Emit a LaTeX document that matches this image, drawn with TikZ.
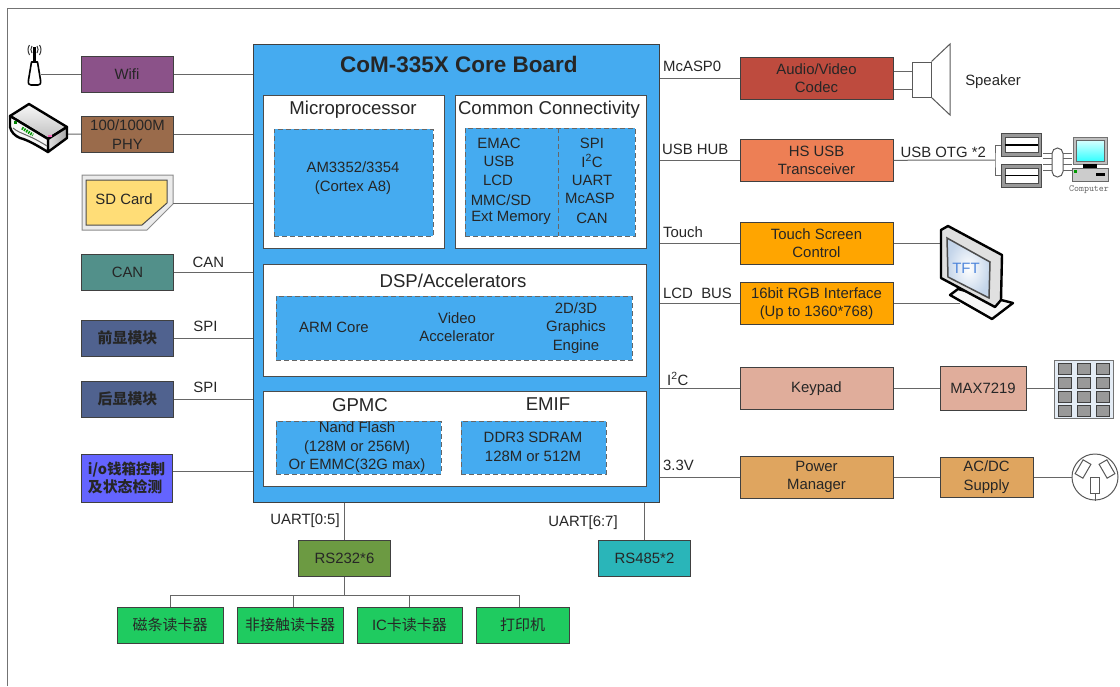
\documentclass[tikz,border=0pt]{standalone}
\usepackage{fontspec}
\setmainfont{Liberation Sans}
\newfontfamily\cjk{Noto Sans CJK SC}
\usetikzlibrary{calc, positioning, shapes.geometric}
\definecolor{corefill}{HTML}{45ABF0}
\definecolor{wifipurple}{HTML}{8B5289}
\definecolor{phybrown}{HTML}{9A6B4B}
\definecolor{canteal}{HTML}{52908A}
\definecolor{dispblue}{HTML}{50628F}
\definecolor{iovio}{HTML}{6464FF}
\definecolor{audiored}{HTML}{BE4B3E}
\definecolor{usbcoral}{HTML}{ED7F55}
\definecolor{lcdorange}{HTML}{FFA500}
\definecolor{keypink}{HTML}{E0AD9B}
\definecolor{powertan}{HTML}{DFA55F}
\definecolor{readergreen}{HTML}{1FCB60}
\definecolor{rsolive}{HTML}{6C9A42}
\definecolor{rscyan}{HTML}{2AB5B9}
\definecolor{sdyellow}{HTML}{FFDD77}
\definecolor{tftblue}{HTML}{C4D5EA}
\definecolor{tfttext}{HTML}{4F86DB}
\definecolor{keybg}{HTML}{E4ECF5}
\tikzstyle{txt}=[inner sep=0pt,align=center,font=\fontsize{14.9}{18.5}\selectfont,text=black!85]
\tikzstyle{head}=[txt,font=\fontsize{18.6}{22}\selectfont]
\tikzstyle{block}=[txt,draw=black!75,line width=1pt]
\tikzstyle{side block}=[block,minimum width=92pt,minimum height=36pt]
\tikzstyle{right block}=[block,minimum width=153pt,minimum height=42pt]
\tikzstyle{panel}=[draw=black!70,fill=white,line width=1pt,minimum width=0pt]
\tikzstyle{dash box}=[draw=black!60,fill=corefill,dash pattern=on 5pt off 3pt,line width=1pt]
\tikzstyle{link}=[draw=black!60,line width=1pt]
\tikzstyle{icon}=[draw=black,line width=2.4pt,line join=round]
\begin{document}
\begin{tikzpicture}[x=1pt,y=-1pt]
		\useasboundingbox (0,0) rectangle (1120,686);
		\draw[black!55,line width=1pt] (7,686) -- (7,8) -- (1120,8);

		% core board
		\node[block,fill=corefill,minimum width=406pt,minimum height=458pt] (core) at (456,273) {};
		\node[txt,font=\fontsize{22.5}{26}\selectfont\bfseries] (title) at (459,64) {CoM-335X Core Board};
		\node[panel,minimum width=181pt,minimum height=153pt] (micro) at (353.5,171.5) {};
		\node[panel,minimum width=191pt,minimum height=153pt] (common) at (550.5,171.5) {};
		\node[panel,minimum width=383pt,minimum height=112pt] (dsp) at (454.5,320) {};
		\node[panel,minimum width=383pt,minimum height=95pt] (mem) at (454.5,438.5) {};
		\node[head] (microhead) at (353,110) {Microprocessor};
		\node[head] (commonhead) at (549,110) {Common Connectivity};
		\node[head] (dsphead) at (453,281) {DSP/Accelerators};
		\node[head] (gpmchead) at (360,405) {GPMC};
		\node[head] (emifhead) at (548,404) {EMIF};

		\node[dash box,minimum width=159pt,minimum height=107pt] (cpu) at (353.5,182.5) {};
		\node[txt] (cputext) at (353,178) {AM3352/3354\\(Cortex A8)};
		\node[dash box,minimum width=170pt,minimum height=108pt] (conn) at (550,182) {};
		\draw[black!60,dash pattern=on 5pt off 3pt,line width=1pt] (558,128) -- (558,236);
		\foreach \txt/\xpos/\ypos in {EMAC/499/143,USB/499/161,LCD/498/180,MMC\slash SD/501/200,Ext Memory/511/218,
			SPI/592/143,I\textsuperscript{2}C/592/161,UART/592/180,McASP/590/198,CAN/592/218}
			\node[txt] (conn\xpos\ypos) at (\xpos,\ypos) {\txt};
		\node[dash box,minimum width=356pt,minimum height=64pt] (accel) at (454,328) {};
		\node[txt] (arm) at (334,327) {ARM Core};
		\node[txt] (video) at (457,327) {Video\\Accelerator};
		\node[txt] (gfx) at (576,328) {2D/3D\\Graphics\\Engine};
		\node[dash box,minimum width=165pt,minimum height=53pt] (gpmc) at (358.5,447.5) {};
		\node[txt] (nand) at (357,447.5) {Nand Flash\\(128M or 256M)\\Or EMMC(32G max)};
		\node[dash box,minimum width=145pt,minimum height=53pt] (emif) at (533.5,447.5) {};
		\node[txt] (ddr) at (533,447) {DDR3 SDRAM\\128M or 512M};

		% left side
		\node[side block,fill=wifipurple] (wifi) at (127,74) {Wifi};
		\node[side block,fill=phybrown] (phy) at (127.5,134.5) {100/1000M\\PHY};
		\node[side block,fill=canteal] (can) at (127.5,272) {CAN};
		\node[side block,fill=dispblue] (front) at (127.5,338) {\cjk\bfseries 前显模块};
		\node[side block,fill=dispblue] (rear) at (127.5,399) {\cjk\bfseries 后显模块};
		\node[side block,fill=iovio,minimum height=48pt,minimum width=91pt,align=left] (gpio) at (126.5,478) {\fontsize{14.5}{18.5}\cjk\bfseries i/o钱箱控制\\\cjk\bfseries 及状态检测};
		\draw[black!45,fill=black!8,line width=1pt] (82,175) -- (173,175) -- (173,204) -- (147,230) -- (82,230) -- cycle;
		\draw[black!70,fill=sdyellow,line width=1pt] (86,180) -- (167,180) -- (167,203) -- (142,225) -- (86,225) -- cycle;
		\node[txt] (sd) at (124,199) {SD Card};
		\coordinate (sdport) at (173,203);
		\coordinate (antenna) at (41,74);
		\coordinate (router) at (67,134);
		\path (wifi) edge[link] (wifi -| core.west)
			(phy) edge[link] (phy -| core.west)
			(sdport) edge[link] (sdport -| core.west)
			(can) edge[link] node[txt,above=4pt,pos=0.4,xshift=3pt] (canbus) {CAN} (can -| core.west)
			(front) edge[link] node[txt,above=5.5pt,pos=0.4] (frontbus) {SPI} (front -| core.west)
			(rear) edge[link] node[txt,above=5.5pt,pos=0.4] (rearbus) {SPI} (rear -| core.west)
			(gpio.east |- 0,471) edge[link] (core.west |- 0,471)
			(antenna) edge[link] (wifi)
			(router) edge[link] (phy);
		% antenna
		\draw[black,line width=1.6pt,fill=white,line join=round] (31.5,62) -- (28.5,80) .. controls (28,84) and (29,85) .. (31,85) -- (38,85) .. controls (40,85) and (41,84) .. (40.5,80) -- (37.5,62) -- cycle;
		\draw[black,line width=2.4pt] (34.5,47) -- (34.5,62);
		\draw[black!80,line width=1pt] (32,46) .. controls (30.5,48) and (30.5,51) .. (32,53)
			(37,46) .. controls (38.5,48) and (38.5,51) .. (37,53)
			(29.5,45) .. controls (27.5,48) and (27.5,51) .. (29.5,55)
			(39.5,45) .. controls (41.5,48) and (41.5,51) .. (39.5,55);
		% router
		\draw[icon,top color=black!3,bottom color=black!25] (10,116) -- (29,104) -- (67,127) -- (48,139) -- cycle;
		\draw[icon,left color=black!12,right color=black!35] (48,139) -- (67,127) -- (67,138) -- (48,152) -- cycle;
		\draw[icon,fill=black!3] (10,116) -- (48,139) -- (48,152) .. controls (38,146) and (28,140) .. (20,138) .. controls (15,136) and (11,132) .. (10,127) -- cycle;
		\draw[green!60!black,line width=3pt,dash pattern=on 1.5pt off 1pt] (22,128) -- (33,135);
		\fill[green!50!black] (14,121) rectangle (17,124);
		\fill[magenta!60] (48,135) rectangle (52,136.5);
		\draw[black!60,line width=1pt] (13,128) .. controls (20,134) and (28,134) .. (47,146);

		% right side
		\node[right block,fill=audiored] (audio) at (816.5,78) {Audio/Video\\Codec};
		\node[right block,fill=usbcoral] (usbphy) at (816.5,160.5) {HS USB\\Transceiver};
		\node[right block,fill=lcdorange] (touch) at (816.5,243) {Touch Screen\\Control};
		\node[right block,fill=lcdorange] (rgb) at (816.5,303.5) {16bit RGB Interface\\(Up to 1360*768)};
		\node[right block,fill=keypink] (keypad) at (816.5,388.5) {Keypad};
		\node[right block,fill=powertan] (power) at (816.5,477) {Power\\Manager};
		\node[block,fill=keypink,minimum width=86pt,minimum height=44pt,right=46pt of keypad] (max) {MAX7219};
		\node[block,fill=powertan,minimum width=93pt,minimum height=40pt,right=46pt of power] (acdc) {AC/DC\\Supply};
		\node[txt,anchor=west] (mcasp) at (663,66) {McASP0};
		\node[txt,anchor=west] (hub) at (662,149) {USB HUB};
		\node[txt,anchor=west] (tbus) at (663,232) {Touch};
		\node[txt,anchor=west] (lcdbus) at (663,293) {LCD\ \ BUS};
		\node[txt,anchor=west] (ibus) at (667,379) {I\textsuperscript{2}C};
		\node[txt,anchor=west] (volt) at (663,465) {3.3V};
		\path (core.east |- audio) edge[link] (audio)
			(core.east |- usbphy) edge[link] (usbphy)
			(core.east |- touch) edge[link] (touch)
			(core.east |- rgb) edge[link] (rgb)
			(core.east |- keypad) edge[link] (keypad)
			(core.east |- power) edge[link] (power)
			(keypad) edge[link] (max)
			(power) edge[link] (acdc);

		% speaker
		\node[draw=black!65,line width=1pt,fill=white,minimum width=19pt,minimum height=35pt,inner sep=0pt] (spkr) at (921.5,79.5) {};
		\draw[black!65,line width=1pt] (spkr.north east) -- (950,44) -- (950,115) -- (spkr.south east);
		\coordinate (spka) at (912,71);
		\coordinate (spkb) at (912,89);
		\path (audio.east |- spka) edge[link] (spka)
			(audio.east |- spkb) edge[link] (spkb);
		\node[txt] (spkrtext) at (993,82) {Speaker};

		% usb and computer
		\coordinate (otg) at (995,160);
		\path (usbphy) edge[link] node[txt,above=2pt,xshift=-1pt] (otgtext) {USB OTG *2} (otg);
		\foreach \name/\ypos in {usba/145,usbb/175.5} {
			\node[draw=black!70,line width=.8pt,fill=black!40,minimum width=40pt,minimum height=23pt,inner sep=0pt] (\name) at (1021.5,\ypos) {};
			\draw[black!70,fill=white,line width=.8pt] (1005,\ypos-7.5) rectangle (1038,\ypos+7.5);
			\draw[black,line width=1.5pt] (1005,\ypos) -- (1038,\ypos);
		}
		\draw[link] (usba.west) -| (otg) |- (usbb.west);
		\foreach \ypos in {153,158,164,170}
			\draw[black!60,line width=1pt] (1043,\ypos) -- (1072,\ypos);
		\node[draw=black!65,line width=1pt,fill=white,rounded corners=5.5pt,minimum width=11pt,minimum height=29pt,inner sep=0pt] (plug) at (1057.5,162.5) {};
		\draw[black!55,fill=black!25,line width=1pt] (1073,137) rectangle (1107,164);
		\draw[black!60,top color=cyan!15,bottom color=cyan!80,line width=.5pt] (1076,140) rectangle (1104,161);
		\fill[black] (1083,164) rectangle (1097,168);
		\draw[black!60,fill=black!20,line width=1pt] (1072,168) rectangle (1108,181);
		\fill[black] (1096,172.5) rectangle (1105,175.5);
		\fill[green!60!black] (1074,170) rectangle (1077,173);
		\node[txt,font=\ttfamily\fontsize{9.5}{10}\selectfont,text=black!60] (computer) at (1089,190) {Computer};

		% tft
		\coordinate (tfta) at (941,243);
		\coordinate (tftb) at (960,303.5);
		\path (touch) edge[link] (tfta)
			(rgb) edge[link] (tftb);
		\draw[icon,fill=black!3] (950,295) -- (958,289) -- (1013,303) -- (992,319) -- cycle;
		\draw[icon,fill=black!12] (941,230) -- (948,226) -- (1002,255) -- (1001,300) -- (995,307) -- (941,278) -- cycle;
		\draw[black!70,line width=1.5pt,inner color=white,outer color=tftblue] (947,238) -- (990,262) -- (989,298) -- (948,277) -- cycle;
		\node[txt,font=\fontsize{15}{18}\selectfont,text=tfttext] (tft) at (966,268) {TFT};

		% keypad
		\draw[black!55,fill=keybg,line width=1pt] (1054,360) rectangle (1113,418);
		\coordinate (keys) at (1054,388.5);
		\path (max) edge[link] (keys);
		\foreach \xpos in {1058,1077,1096}
			\foreach \ypos in {363,377,391,405}
				\draw[black!75,fill=black!40,line width=1pt] (\xpos,\ypos) rectangle ++(13.5,11);

		% socket
		\node[draw=black!65,line width=1pt,fill=white,circle,minimum size=46pt,inner sep=0pt] (socket) at (1095,477) {};
		\path (acdc) edge[link] (socket);
		\draw[black!65,line width=1pt,rotate around={-30:(1083,469)}] (1078.5,461) rectangle (1087.5,477);
		\draw[black!65,line width=1pt,rotate around={30:(1107,469)}] (1102.5,461) rectangle (1111.5,477);
		\draw[black!65,line width=1pt] (1090.5,477) rectangle (1099.5,493) (1095,493) -- (socket.south);

		% bottom
		\node[side block,fill=rsolive] (rsa) at (344.5,558) {RS232*6};
		\node[side block,fill=rscyan] (rsb) at (644.5,558) {RS485*2};
		\node[txt] (uarta) at (305,521) {UART[0:5]};
		\node[txt] (uartb) at (583,523) {UART[6:7]};
		\node[side block,fill=readergreen,minimum width=106pt] (magcard) at (170,625) {\cjk\fontsize{15}{18}\selectfont 磁条读卡器};
		\node[side block,fill=readergreen,minimum width=106pt] (rfcard) at (290,625) {\cjk\fontsize{15}{18}\selectfont 非接触读卡器};
		\node[side block,fill=readergreen,minimum width=105pt] (iccard) at (409.5,625) {IC{\cjk\fontsize{15}{18}\selectfont 卡读卡器}};
		\node[side block,fill=readergreen,minimum width=93pt] (printer) at (522.5,625) {\cjk\fontsize{15}{18}\selectfont 打印机};
		\coordinate (bus) at (344.5,595);
		\coordinate (rfdrop) at (293,595);
		\coordinate (printdrop) at (519,595);
		\path (core.south -| rsa) edge[link] (rsa)
			(core.south -| rsb) edge[link] (rsb)
			(rsa) edge[link] (bus);
		\draw[link] (magcard.north) -- (magcard.north |- bus) -- (printdrop) -- (printdrop |- printer.north);
		\path (rfdrop) edge[link] (rfdrop |- rfcard.north)
			(iccard.north |- bus) edge[link] (iccard);
	\end{tikzpicture}
\end{document}
